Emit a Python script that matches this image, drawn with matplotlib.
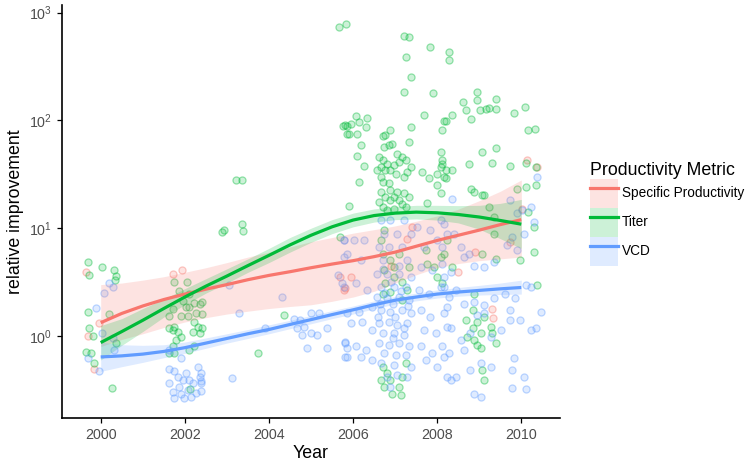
import numpy as np
import matplotlib
matplotlib.use('Agg')
import matplotlib.pyplot as plt
from matplotlib.patches import Patch
from matplotlib.lines import Line2D
from matplotlib.ticker import LogLocator, NullLocator, FixedLocator

plt.rcParams['font.family'] = ['Liberation Sans', 'DejaVu Sans']

# groups and colours (ggplot default hues)
metrics = ['Specific Productivity', 'Titer', 'VCD']
colors = ['#F8766D', '#00BA38', '#619CFF']

# scatter points (jittered year, relative improvement)
sp_year = [1999.64, 1999.95, 1999.71, 1999.83, 2001.71, 2001.93, 2005.78, 2005.70,
           2005.94, 2005.80, 2007.41, 2007.29, 2006.90, 2008.50, 2008.90, 2009.33,
           2009.74, 2010.02, 2010.13, 2010.37, 2009.30]
sp_value = [3.9, 1.33, 1.0, 0.49, 3.75, 4.1, 2.7, 3.5,
            3.5, 2.8, 10.3, 8.0, 4.5, 3.9, 6.0, 1.46,
            7.5, 15.2, 43, 37, 1.8]

titer_year = [
    # 2000
    1999.69, 1999.73, 2000.03, 2000.31, 2000.36, 1999.69, 1999.73, 1999.81, 1999.64,
    1999.77, 1999.85, 2000.27, 2000.19, 2000.36, 2000.33,
    # 2002
    2001.63, 2001.71, 2001.83, 2001.75, 2001.91, 2001.79, 2001.71, 2001.63, 2001.75,
    2002.09, 2002.23, 2002.19, 2002.31, 2002.35, 2002.23, 2002.27, 2002.35, 2002.23,
    2002.11, 2002.03, 2001.71, 2001.95, 2002.09, 2001.75, 2002.04, 2001.62, 2001.91,
    2002.07, 2002.12, 2001.85,
    # 2003 - 2005
    2003.21, 2003.35, 2002.92, 2002.88, 2003.35, 2003.39, 2004.36, 2003.74, 2002.42,
    2002.42, 2002.40, 2005.66, 2005.84, 2005.77, 2005.86, 2005.86, 2005.90, 2005.70,
    # 2006 - 2008 upper
    2007.21, 2007.33, 2007.84, 2007.25, 2008.28, 2008.28, 2007.37, 2007.21, 2007.90,
    2007.69, 2008.16, 2008.12, 2006.06, 2006.34, 2006.14, 2006.30, 2005.82, 2005.94,
    2006.10, 2005.90, 2006.89, 2006.77, 2006.70, 2007.37, 2007.33, 2006.73, 2006.85,
    2006.93, 2006.18, 2006.10, 2006.26,
    2006.62, 2006.70, 2006.66, 2006.81, 2006.89, 2006.97, 2007.05, 2007.09, 2007.17,
    2007.25, 2007.29, 2007.21, 2007.01, 2006.77, 2006.58, 2006.66,
    2007.37, 2007.64, 2007.80, 2008.00, 2008.08, 2008.20, 2008.12, 2008.08, 2006.14,
    2006.70, 2006.85, 2006.89, 2006.66, 2006.77, 2006.89, 2006.97, 2007.09, 2007.17,
    2007.25, 2007.33, 2007.21, 2007.05, 2006.62, 2006.70, 2006.81, 2006.97,
    2008.08, 2007.76, 2008.00,
    # 2006 - 2008 lower
    2006.73, 2006.66, 2006.70, 2006.89, 2006.97, 2007.09, 2007.33, 2007.17, 2006.97,
    2006.73, 2006.77, 2006.89, 2006.70, 2007.17, 2007.29, 2007.76, 2007.92, 2008.00,
    2008.08, 2007.73,
    2006.70, 2006.81, 2006.73, 2006.93, 2007.09, 2007.17, 2007.13, 2006.66, 2006.89,
    2007.25,
    # 2008 - 2010
    2008.95, 2008.62, 2008.94, 2009.39, 2008.68, 2008.80, 2009.02, 2009.15, 2009.23,
    2009.39, 2009.83, 2010.09, 2008.36, 2008.20, 2010.16, 2010.33,
    2008.12, 2008.20, 2008.36, 2008.16, 2008.75, 2009.31, 2009.74, 2009.07, 2009.39,
    2008.80, 2008.87, 2009.07, 2009.11, 2010.10, 2010.34,
    2009.23, 2009.35, 2010.10, 2010.34, 2009.90, 2010.17, 2010.29, 2009.35, 2008.24,
    2010.29, 2008.16, 2008.36, 2008.12, 2009.39, 2009.96, 2010.37, 2009.07, 2008.87,
    2008.68, 2008.84, 2008.72, 2008.87, 2008.95, 2009.03, 2008.84, 2009.11, 2009.27,
    2009.31, 2009.39, 2009.07, 2009.11, 2009.03, 2008.95,
]
titer_value = [
    # 2000
    4.9, 3.7, 4.4, 4.1, 3.6, 1.66, 1.2, 1.0, 0.71,
    0.70, 0.56, 0.33, 1.6, 0.87, 3.3,
    # 2002
    1.19, 1.14, 1.10, 1.22, 0.99, 0.92, 0.81, 0.69, 0.69,
    0.74, 0.80, 1.10, 1.22, 1.06, 1.36, 1.62, 1.98, 2.03,
    1.84, 1.87, 1.77, 2.12, 2.43, 3.18, 3.18, 1.53, 1.52,
    1.53, 0.325, 2.6,
    # 2003 - 2005
    27.8, 27.8, 9.6, 9.2, 11.0, 9.4, 1.56, 0.70, 2.08,
    1.6, 1.2, 742, 776, 88, 88, 75, 16, 8.3,
    # 2006 - 2008 upper
    612, 590, 475, 390, 427, 364, 252, 183, 178,
    111, 98, 81, 109, 106, 96, 87, 90, 92,
    75, 75, 81, 73, 71, 87, 63, 57, 59,
    61, 59, 47, 37.5,
    46, 42.6, 37, 39.7, 34.4, 38.3, 49, 41, 46,
    42.6, 33, 30, 32, 34.4, 34.4, 30,
    37, 33, 29, 32, 37, 29, 42.6, 51, 26.8,
    26.8, 26, 22.5, 21.7, 19.5, 18.2, 19.5, 18.2, 16.9,
    15.7, 19.5, 21, 21.7, 17.5, 15.7, 14.7, 15.2,
    21, 17, 25,
    # 2006 - 2008 lower
    9.6, 7.7, 5.8, 5.1, 4.4, 5.8, 4.4, 3.2, 3.5,
    4.1, 3.1, 2.57, 2.48, 2.15, 2.67, 4.7, 4.4, 3.5,
    5.4, 6.3,
    0.52, 0.45, 0.34, 0.29, 0.34, 0.42, 0.284, 0.39, 0.39,
    0.56,
    # 2008 - 2010
    183, 148, 155, 159, 124, 104, 124, 128, 131,
    128, 117, 133, 111, 99, 82, 84,
    39.7, 34.4, 35, 30, 39, 40, 38, 51, 55,
    23, 21.7, 20.2, 20.2, 40, 37,
    15.7, 12.7, 24, 25, 23, 14.2, 10.3, 8.9, 7.7,
    6.0, 5.8, 4.4, 3.08, 5.2, 5.1, 2.97, 5.8, 2.48,
    1.41, 1.18, 0.99, 0.92, 0.83, 0.77, 1.74, 1.51, 1.22,
    1.06, 0.86, 0.48, 0.39, 1.06, 1.36,
]

vcd_year = [
    # 2000
    1999.89, 2000.20, 2000.09, 2000.29, 2000.03, 2000.32, 1999.95, 1999.70, 2000.30,
    # 2002
    2001.63, 2001.75, 2001.62, 2001.71, 2001.87, 2001.95, 2002.03, 2002.11, 2002.19,
    2002.07, 2002.15, 2001.99, 2002.31, 2002.35, 2002.38, 2002.27, 2001.75, 2001.91,
    2001.83, 2001.63, 2001.91, 2002.39, 2002.39, 2002.39,
    # 2003 - 2005
    2003.29, 2003.05, 2004.30, 2003.13, 2003.90, 2004.60, 2004.75, 2004.99, 2005.19,
    2004.83, 2004.67, 2004.99, 2005.15, 2004.79, 2005.39, 2004.91, 2005.39, 2005.82,
    2005.86, 2005.80, 2005.78, 2005.64, 2005.74, 2005.78,
    # 2006 left
    2005.78, 2006.02, 2006.26, 2005.86, 2006.18, 2005.78, 2006.06, 2006.34, 2005.86,
    2006.14, 2006.46, 2005.94, 2006.22, 2006.46, 2005.82, 2006.06, 2006.30, 2005.86,
    2006.18, 2006.46,
    # 2007 dense band
    2006.66, 2006.89, 2007.21, 2006.73, 2007.05, 2007.37, 2006.62, 2006.85, 2007.17,
    2006.70, 2007.29, 2006.58, 2006.81, 2007.09, 2007.37, 2006.66, 2006.97, 2007.25,
    2006.58, 2006.81, 2007.09, 2007.33, 2006.66, 2006.89, 2007.17, 2007.37, 2006.62,
    2006.85, 2007.05, 2007.29, 2006.70, 2006.97, 2007.21, 2006.62, 2006.85, 2007.09,
    2007.33, 2006.73, 2007.01, 2007.25, 2006.66, 2006.97, 2007.37, 2006.81, 2007.05,
    2007.29, 2006.89, 2006.75, 2006.95, 2007.15, 2006.60, 2007.00, 2007.20, 2006.90,
    2007.10, 2006.70, 2006.95, 2007.30, 2006.65,
    # 2007.5 - 2008.3
    2007.53, 2007.84, 2008.08, 2007.69, 2008.00, 2008.24, 2007.61, 2007.88, 2008.16,
    2007.57, 2007.80, 2008.08, 2008.28, 2007.61, 2007.84, 2008.16, 2007.69, 2007.96,
    2008.24, 2007.61, 2007.88, 2008.12, 2007.73, 2008.00, 2008.24,
    # 2008 - 2010
    2008.36, 2009.74, 2009.90, 2010.02, 2010.22, 2010.38, 2010.30, 2010.06, 2009.78,
    2009.66, 2009.90, 2008.16, 2008.40, 2008.12, 2008.56, 2008.75, 2008.87, 2009.11,
    2009.35, 2008.63, 2008.32, 2008.12, 2008.16, 2008.44, 2008.24, 2008.63, 2008.87,
    2009.11, 2009.35, 2009.62, 2009.86, 2010.10, 2010.22, 2010.46, 2010.34, 2010.22,
    2009.98, 2009.74, 2009.74, 2009.51, 2009.27, 2008.79, 2008.32, 2008.56, 2008.28,
    2008.63, 2009.03, 2008.79, 2008.44, 2009.27, 2009.82, 2009.78, 2010.06, 2009.78,
    2010.10, 2008.87, 2009.03, 2008.32, 2008.16, 2009.11, 2008.95,
]
vcd_value = [
    # 2000
    1.83, 3.1, 2.5, 2.86, 1.06, 0.74, 0.47, 0.62, 0.95,
    # 2002
    0.49, 0.47, 0.365, 0.30, 0.335, 0.39, 0.45, 0.39, 0.365,
    0.316, 0.274, 0.265, 0.52, 0.42, 0.365, 0.294, 0.265, 0.29,
    0.42, 0.74, 0.62, 0.45, 0.38, 0.31,
    # 2003 - 2005
    1.62, 2.97, 2.31, 0.41, 1.19, 1.43, 1.41, 1.62, 1.62,
    1.22, 1.18, 1.06, 1.02, 1.02, 1.18, 0.77, 0.77, 0.885,
    0.77, 0.635, 5.4, 3.67, 3.08, 7.7,
    # 2006 left
    7.7, 7.7, 7.7, 5.8, 5.1, 2.86, 3.08, 2.67, 1.62,
    1.68, 1.87, 1.31, 1.36, 1.14, 0.86, 0.80, 0.74, 0.64,
    0.64, 0.60,
    # 2007 dense band
    11.9, 11.9, 11.9, 8.9, 8.9, 8.9, 6.7, 6.7, 6.7,
    5.1, 5.1, 3.8, 3.8, 3.8, 3.5, 2.86, 2.86, 2.86,
    2.31, 2.23, 2.31, 2.15, 1.74, 1.68, 1.74, 1.62, 1.31,
    1.36, 1.26, 1.31, 1.06, 1.06, 1.02, 0.86, 0.83, 0.86,
    0.80, 0.69, 0.67, 0.67, 0.56, 0.54, 0.52, 0.42, 0.435,
    0.42, 0.34, 2.5, 2.0, 2.6, 1.5, 1.5, 1.2, 3.2,
    4.5, 4.2, 0.95, 1.9, 2.0,
    # 2007.5 - 2008.3
    10.3, 9.6, 11.9, 6.7, 7.7, 8.9, 4.4, 4.1, 3.5,
    2.67, 2.48, 2.86, 2.31, 1.74, 1.51, 1.62, 1.14, 1.06,
    1.22, 0.80, 0.69, 0.80, 0.60, 0.52, 0.42,
    # 2008 - 2010
    18.8, 18.2, 13.7, 14.7, 15.7, 30, 11.5, 8.9, 8.3,
    7.0, 6.3, 11.0, 8.9, 6.7, 6.7, 5.8, 4.5, 4.4,
    4.9, 5.4, 3.9, 4.7, 2.86, 2.67, 1.87, 2.0, 2.08,
    1.94, 2.23, 2.48, 2.23, 2.97, 2.86, 1.68, 1.18, 1.14,
    1.41, 1.74, 1.41, 1.14, 0.99, 1.06, 1.18, 0.92, 0.69,
    0.74, 0.56, 0.48, 0.42, 0.52, 0.62, 0.48, 0.42, 0.33,
    0.32, 0.29, 0.27, 0.39, 0.64, 1.62, 1.56,
]

# smoothed fits with confidence bands, read every half year
fit_year = [2000, 2000.5, 2001, 2001.5, 2002, 2002.5, 2003, 2003.5, 2004, 2004.5,
            2005, 2005.5, 2006, 2006.5, 2007, 2007.5, 2008, 2008.5, 2009, 2009.5,
            2010]
sp_fit = [1.33, 1.62, 1.9, 2.18, 2.45, 2.72, 3.0, 3.33, 3.65, 3.95,
          4.3, 4.65, 5.0, 5.45, 6.0, 6.8, 7.7, 8.6, 9.6, 10.8, 12.0]
sp_lo = [0.8, 0.93, 1.05, 1.2, 1.35, 1.48, 1.6, 1.7, 1.8, 1.88,
         1.95, 2.1, 2.3, 2.6, 3.1, 3.7, 4.3, 4.7, 5.0, 5.2, 5.4]
sp_hi = [3.0, 3.1, 3.3, 3.55, 3.9, 4.3, 4.8, 5.4, 6.0, 6.7,
         7.5, 8.2, 9.0, 9.7, 10.5, 11.6, 13.0, 15.0, 18.0, 22.0, 28.0]
titer_fit = [0.87, 1.1, 1.4, 1.8, 2.3, 2.9, 3.6, 4.5, 5.6, 7.0,
             8.6, 10.3, 11.9, 13.1, 13.8, 14.1, 13.9, 13.4, 12.7, 11.8, 10.9]
titer_lo = [0.6, 0.82, 1.1, 1.5, 1.95, 2.5, 3.1, 3.9, 4.8, 6.0,
            7.4, 8.9, 10.3, 11.4, 12.0, 12.2, 11.9, 11.2, 9.8, 8.0, 6.5]
titer_hi = [1.25, 1.45, 1.8, 2.2, 2.75, 3.4, 4.2, 5.2, 6.5, 8.2,
            10.0, 12.0, 13.8, 15.1, 15.9, 16.3, 16.3, 16.2, 16.3, 17.0, 18.5]
vcd_fit = [0.64, 0.655, 0.68, 0.72, 0.78, 0.86, 0.95, 1.05, 1.15, 1.28,
           1.42, 1.58, 1.75, 1.95, 2.15, 2.3, 2.45, 2.56, 2.65, 2.74, 2.82]
vcd_lo = [0.47, 0.52, 0.57, 0.63, 0.69, 0.77, 0.86, 0.95, 1.05, 1.17,
          1.3, 1.45, 1.6, 1.79, 1.98, 2.12, 2.25, 2.34, 2.4, 2.43, 2.45]
vcd_hi = [0.88, 0.83, 0.82, 0.83, 0.88, 0.96, 1.05, 1.15, 1.27, 1.4,
          1.55, 1.72, 1.9, 2.12, 2.33, 2.5, 2.68, 2.82, 2.95, 3.1, 3.3]

x_ticks = [2000, 2002, 2004, 2006, 2008, 2010]


def draw_points(ax, x, y, color):
    """Semi transparent points like the ggplot layer"""
    ax.scatter(x, y, s=26, facecolor=matplotlib.colors.to_rgba(color, 0.2),
               edgecolor=matplotlib.colors.to_rgba(color, 0.4), linewidths=0.9,
               zorder=2)


def draw_fit(ax, x, fit, lo, hi, color):
    """Smooth line plus its shaded band"""
    ax.fill_between(x, lo, hi, color=color, alpha=0.2, linewidth=0, zorder=3)
    ax.plot(x, fit, color=color, lw=2.3, zorder=4, solid_capstyle='butt',
            solid_joinstyle='round')


fig = plt.figure(figsize=(7.5, 4.66), dpi=100)
ax = fig.add_axes([62 / 750, 48 / 466, (560 - 62) / 750, (461 - 48) / 466])

# points first, then the fits on top
draw_points(ax, sp_year, sp_value, colors[0])
draw_points(ax, titer_year, titer_value, colors[1])
draw_points(ax, vcd_year, vcd_value, colors[2])

draw_fit(ax, fit_year, sp_fit, sp_lo, sp_hi, colors[0])
draw_fit(ax, fit_year, titer_fit, titer_lo, titer_hi, colors[1])
draw_fit(ax, fit_year, vcd_fit, vcd_lo, vcd_hi, colors[2])

ax.set_yscale('log')
ax.set_xlim(1999.08, 2010.92)
ax.set_ylim(10 ** -0.76, 10 ** 3.07)
ax.yaxis.set_major_locator(LogLocator(base=10, numticks=10))
ax.yaxis.set_minor_locator(NullLocator())
ax.xaxis.set_major_locator(FixedLocator(x_ticks))
ax.set_xticklabels([str(t) for t in x_ticks])

# classic theme: only left and bottom axis lines
for side in ['top', 'right']:
    ax.spines[side].set_visible(False)
for side in ['left', 'bottom']:
    ax.spines[side].set_linewidth(1.2)
ax.tick_params(axis='both', length=3.5, width=0.9, colors='black',
               labelcolor='#4D4D4D', labelsize=10.3)

ax.set_xlabel('Year', fontsize=12.8, labelpad=2)
ax.set_ylabel('relative improvement', fontsize=12.8, labelpad=4)

# legend with band + line keys
handles = []
for c in colors:
    handles.append((Patch(facecolor=c, alpha=0.2, edgecolor='none'),
                    Line2D([], [], color=c, lw=2.3)))
leg = ax.legend(handles, metrics, title='Productivity Metric',
                loc='upper left', bbox_to_anchor=(583 / 750, 1 - 155 / 466),
                bbox_transform=fig.transFigure, frameon=False,
                fontsize=9.8, title_fontsize=12.8, handlelength=2.1,
                handleheight=2.9, labelspacing=0.0, handletextpad=0.25,
                borderpad=0.0, alignment='left')

fig.savefig('out.png', dpi=100)
